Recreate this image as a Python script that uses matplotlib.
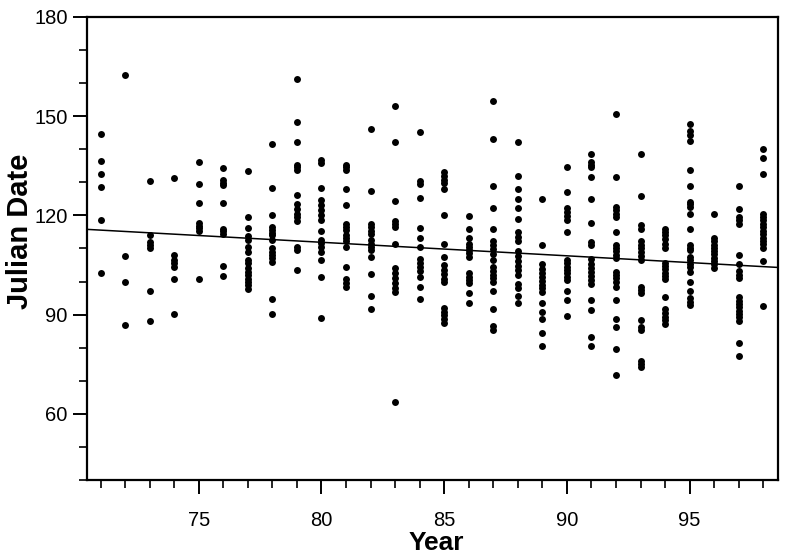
import numpy as np
import matplotlib
matplotlib.use("Agg")
import matplotlib.pyplot as plt
from matplotlib.ticker import MultipleLocator

d71 = [144.5, 136.4, 132.5, 128.6, 118.5, 102.6]
d72 = [162.4, 107.8, 99.8, 86.9]
d73 = [130.5, 114, 112, 111, 110, 97, 88]
d74 = [131.4, 108, 106.5, 105.5, 104.3, 100.7, 90.2]
d75 = [136.3, 129.4, 123.7, 117.6, 116.9, 116.1, 115.4, 100.7]
d76 = [134.3, 130.6, 129.9, 129.1, 123.8, 115.9, 115.2, 114.5, 104.6, 101.6]
d77 = [133.3, 119.4, 116.3, 113.8, 112.5, 110.6, 109, 106.5, 105.5, 104, 102.9,
       101.9, 100.9, 99.9, 98.9, 97.8]
d78 = [141.5, 128.3, 120.1, 116.6, 115.6, 114.8, 114.1, 112.6, 110, 109, 108, 107,
       106, 94.8, 90.1]
d79 = [161.3, 148.1, 142.3, 135.3, 134.6, 133.8, 126.3, 123.5, 122.0, 120.5, 119.5,
       118.2, 110.6, 109.6, 103.4]
d80 = [136.8, 135.9, 128.2, 124.7, 123.2, 121.7, 120.2, 118.6, 115.3, 112.6, 111.6,
       110.6, 108.8, 106.5, 101.5, 89.1]
d81 = [135.3, 134.6, 133.8, 128.1, 123.3, 117.3, 116.4, 115.5, 114, 113.2, 112.3,
       110.5, 104.3, 100.8, 99.7, 98.5]
d82 = [146.2, 127.3, 117.3, 116.6, 115.3, 114.3, 112.5, 111.5, 110.5, 109.5, 107.5,
       102.2, 95.6, 91.8]
d83 = [153, 142.2, 124.4, 118.2, 117.3, 116.5, 111.3, 104, 102.5, 101, 99.7, 98.2,
       96.7, 63.6]
d84 = [145.1, 130.4, 129.4, 125.3, 116.1, 113.3, 110.4, 106.7, 105.7, 104.5, 103.2,
       101.3, 98.4, 94.7]
d85 = [133.1, 132, 130.8, 129.7, 128.1, 120.1, 111.3, 107.3, 105, 103.5, 102.2,
       100.8, 99.8, 91.9, 90.9, 89.9, 88.6, 87.4]
d86 = [119.9, 116, 113.3, 111.5, 110.5, 109.5, 108.5, 107.5, 102.5, 101.5, 100.4,
       99.6, 96.5, 93.5]
d87 = [154.7, 143, 129, 122.2, 116, 112.3, 111, 109.8, 108.4, 106.4, 104.5, 103.2,
       102, 101, 100, 97, 91.6, 86.6, 85.4]
d88 = [142.1, 131.9, 128, 125.1, 122.3, 118.8, 115.1, 113.5, 112.2, 109.3, 107.8,
       106.3, 104.8, 103.4, 101.9, 99.3, 98.2, 95.6, 93.5]
d89 = [125.1, 111, 105.4, 103.8, 102.6, 101.4, 100.2, 99, 98, 96.9, 93.5, 90.7,
       88.7, 84.4, 80.4]
d90 = [134.7, 127, 122.3, 121, 119.8, 118.6, 114.9, 106.5, 105.5, 104.5, 103.5,
       102.5, 101.5, 100.5, 97.2, 94.4, 89.6]
d91 = [138.6, 136.2, 135.2, 134.5, 131.6, 125, 117.8, 111.9, 111, 106.7, 105.3,
       104.1, 102.9, 101.7, 100.5, 99.2, 94.3, 91.5, 83.3, 80.4]
d92 = [150.7, 131.7, 122.5, 121.5, 120.5, 119.6, 114.9, 111.1, 110.1, 109.1, 108.1,
       107.1, 103, 102, 101, 100, 98.5, 94.4, 88.7, 86.4, 79.5, 71.7]
d93 = [138.5, 125.9, 117, 116, 112.3, 111, 110, 109, 107.8, 106.5, 98.5, 97.5,
       96.5, 88.5, 86.3, 85.3, 76, 75, 74.3]
d94 = [116, 115, 114, 112.9, 111.5, 110.2, 105.7, 104.7, 103.7, 102.7, 101.7,
       100.8, 95.4, 91.7, 90.6, 89.4, 88.3, 87.3]
d95 = [147.7, 145.5, 144.4, 142.6, 133.6, 128.8, 124.1, 123.4, 122.5, 120.5, 115.8,
       111, 110.2, 109.4, 107.4, 106.4, 105.3, 104.3, 103, 100, 97.2, 95, 93.8, 93]
d96 = [120.5, 113.2, 112.2, 111.2, 110.2, 109.2, 108.2, 107.2, 106.2, 105.2, 104.2]
d97 = [128.8, 122, 119.5, 118.6, 117.5, 108.1, 105.2, 103.2, 102.1, 101, 95.3,
       94.2, 93.2, 92.2, 91.2, 90.2, 89.2, 88.2, 81.3, 77.5]
d98 = [140, 137.5, 132.5, 120.5, 119.5, 118.5, 117.5, 116.4, 115.3, 114.3, 113.3,
       112.3, 111.3, 110.2, 106.1, 92.5]

years = list(range(71, 99))
dates = [d71, d72, d73, d74, d75, d76, d77, d78, d79, d80, d81, d82, d83, d84,
         d85, d86, d87, d88, d89, d90, d91, d92, d93, d94, d95, d96, d97, d98]

# regression line
fit_intercept = 144.6
fit_slope = -0.409

x_ticks = [75, 80, 85, 90, 95]
y_ticks = [60, 90, 120, 150, 180]

plt.rcParams['font.family'] = ['Liberation Sans', 'DejaVu Sans']

fig = plt.figure(figsize=(7.93, 5.54), dpi=100)
ax = fig.add_axes([87/793, 1 - 480/554, (778 - 87)/793, (480 - 17)/554])

xs = np.concatenate([[yr] * len(d) for yr, d in zip(years, dates)])
ys = np.concatenate(dates)
ax.plot(xs, ys, 'o', color='black', markersize=5.0, markeredgewidth=0, zorder=3)

xlim = (70.45, 98.6)
xl = np.array(xlim)
ax.plot(xl, fit_intercept + fit_slope * xl, color='black', linewidth=1.1, zorder=2)

ax.set_xlim(*xlim)
ax.set_ylim(40, 180)
ax.set_xticks(x_ticks)
ax.set_yticks(y_ticks)
ax.xaxis.set_minor_locator(MultipleLocator(1))
ax.yaxis.set_minor_locator(MultipleLocator(10))

ax.tick_params(which='major', direction='out', length=10, width=1.4,
               labelsize=14.5, color='black')
ax.tick_params(which='minor', direction='out', length=6, width=1.2, color='black')
ax.tick_params(axis='x', which='major', pad=12)
ax.tick_params(axis='y', which='major', pad=4)
ax.tick_params(top=False, right=False, which='both')

for s in ax.spines.values():
    s.set_linewidth(1.6)
    s.set_color('black')

ax.set_xlabel('Year', fontsize=19, fontweight='bold')
ax.set_ylabel('Julian Date', fontsize=21, fontweight='bold')
ax.xaxis.set_label_coords(0.505, -0.110)
ax.yaxis.set_label_coords(-0.076, 0.538)

fig.savefig('out.png', dpi=100)
